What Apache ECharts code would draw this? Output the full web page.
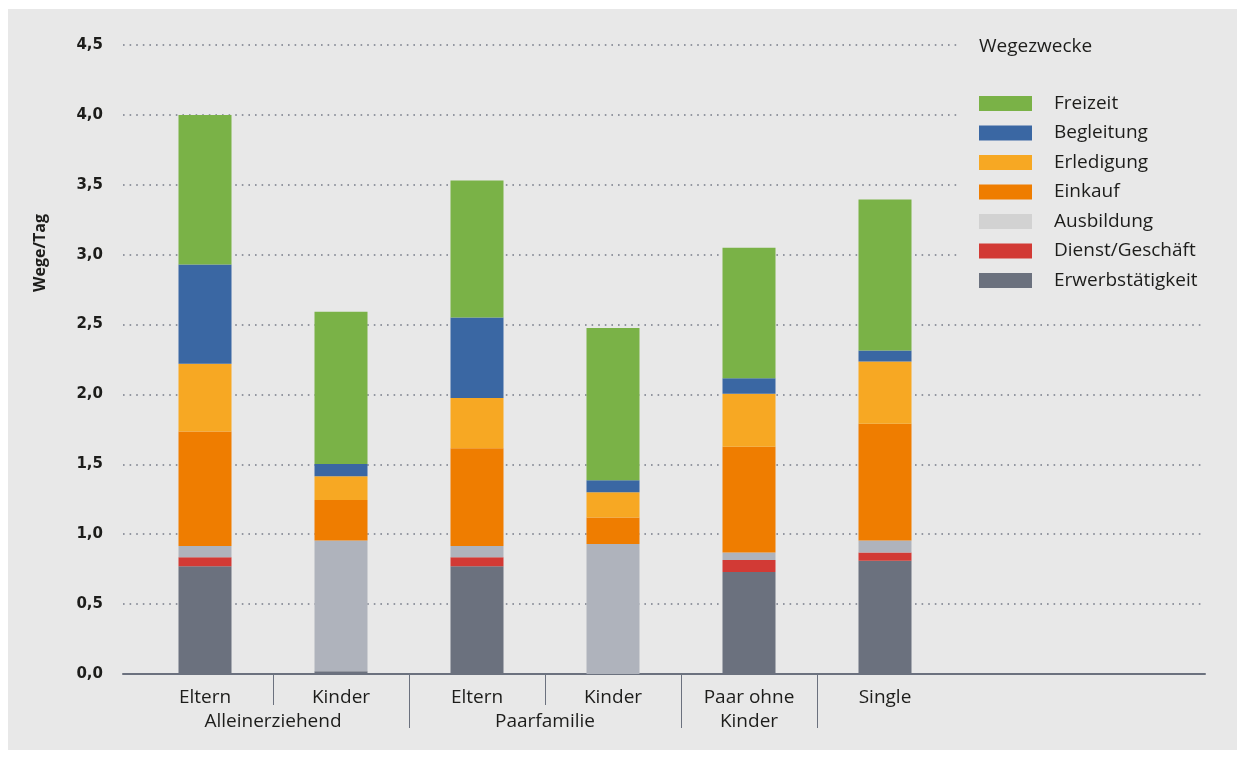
<!DOCTYPE html>
<html>
<head>
<meta charset="utf-8">
<script src="https://cdn.jsdelivr.net/npm/echarts@6/dist/echarts.min.js"></script>
<style>
  html, body { margin: 0; padding: 0; background: #ffffff; }
  #bg { position: absolute; left: 8px; top: 9px; width: 1229px; height: 741px; background: #e8e8e8; }
  #chart { position: absolute; left: 0; top: 0; width: 1245px; height: 758px; }
</style>
</head>
<body>
<div id="bg"></div>
<div id="chart"></div>
<script>
  // columns and the group row below them
  var categories = ['Eltern', 'Kinder', 'Eltern', 'Kinder', 'Paar ohne\nKinder', 'Single'];
  var groupLabels = ['', '', 'Alleinerziehend', '', '', '', 'Paarfamilie', '', '', '', '', '', ''];
  var yTicks = [0, 0.5, 1, 1.5, 2, 2.5, 3, 3.5, 4, 4.5];

  // Wege/Tag per purpose, bottom to top
  var erwerb     = [0.77, 0.02, 0.77, 0.00, 0.73, 0.81];
  var dienst     = [0.065, 0.00, 0.065, 0.00, 0.085, 0.06];
  var ausbildung = [0.08, 0.935, 0.08, 0.93, 0.055, 0.085];
  var einkauf    = [0.82, 0.29, 0.70, 0.19, 0.755, 0.835];
  var erledigung = [0.485, 0.17, 0.36, 0.18, 0.38, 0.445];
  var begleitung = [0.71, 0.087, 0.575, 0.086, 0.11, 0.08];
  var freizeit   = [1.07, 1.09, 0.98, 1.09, 0.935, 1.08];

  var font = 'Open Sans';
  var textColor = '#1d1d1b';
  var axisGrey = '#6b717e';

  var stackDefs = [
    { name: 'Erwerbstätigkeit', data: erwerb, color: '#6b717e' },
    { name: 'Dienst/Geschäft', data: dienst, color: '#d23a35' },
    { name: 'Ausbildung', data: ausbildung, color: '#afb3bc', legendColor: '#d2d2d2' },
    { name: 'Einkauf', data: einkauf, color: '#ef7d00' },
    { name: 'Erledigung', data: erledigung, color: '#f7a823' },
    { name: 'Begleitung', data: begleitung, color: '#3a67a3' },
    { name: 'Freizeit', data: freizeit, color: '#7ab247' }
  ];

  var series = stackDefs.map(function (d) {
    return {
      name: d.name,
      type: 'bar',
      stack: 'wege',
      xAxisIndex: 1,
      yAxisIndex: 1,
      barWidth: 53,
      itemStyle: { color: d.color },
      data: d.data
    };
  });

  var legendData = stackDefs.slice().reverse().map(function (d) {
    return { name: d.name, itemStyle: { color: d.legendColor || d.color } };
  });

  var myChart = echarts.init(document.getElementById('chart'));

  var option = {
    animation: false,
    title: {
      text: 'Wegezwecke',
      left: 974,
      top: 32,
      textStyle: { fontFamily: font, fontSize: 19, fontWeight: 'normal', color: textColor }
    },
    legend: {
      orient: 'vertical',
      left: 957,
      top: 38,
      padding: [56, 12, 10, 22],
      backgroundColor: '#e8e8e8',
      itemWidth: 53,
      itemHeight: 15,
      itemGap: 10.5,
      icon: 'rect',
      selectedMode: false,
      data: legendData,
      textStyle: { fontFamily: font, fontSize: 19, color: textColor, padding: [0, 0, 0, 17] }
    },
    grid: [
      { left: 123, right: 40, top: 45, bottom: 84 },
      { left: 137, right: 292, top: 45, bottom: 84 }
    ],
    xAxis: [
      {
        gridIndex: 0, type: 'value', min: 0, max: 1,
        axisLine: { show: true, lineStyle: { color: axisGrey, width: 2 } },
        axisTick: { show: false }, axisLabel: { show: false }, splitLine: { show: false }
      },
      {
        gridIndex: 1, type: 'category', data: categories, position: 'bottom',
        axisLine: { show: false }, axisTick: { show: false },
        axisLabel: { interval: 0, margin: 12, lineHeight: 24, fontFamily: font, fontSize: 19, color: textColor }
      },
      {
        gridIndex: 1, type: 'category', data: groupLabels, position: 'bottom', boundaryGap: false,
        axisLine: { show: false },
        axisTick: {
          show: true, length: 31, lineStyle: { color: axisGrey, width: 1 },
          interval: function (i) { return i === 2 || i === 6; }
        },
        axisLabel: { show: false }
      },
      {
        gridIndex: 1, type: 'category', data: groupLabels, position: 'bottom', boundaryGap: false,
        axisLine: { show: false },
        axisTick: {
          show: true, length: 54, lineStyle: { color: axisGrey, width: 1 },
          interval: function (i) { return i === 4 || i === 8 || i === 10; }
        },
        axisLabel: {
          interval: 0, margin: 36, lineHeight: 24, fontFamily: font, fontSize: 19, color: textColor
        }
      }
    ],
    yAxis: [
      {
        gridIndex: 0, type: 'value',
        min: yTicks[0], max: yTicks[yTicks.length - 1], interval: 0.5,
        axisLine: { show: false }, axisTick: { show: false },
        axisLabel: {
          margin: 20, fontFamily: 'DejaVu Sans', fontWeight: 'bold', fontSize: 15, color: textColor,
          formatter: function (v) { return v.toFixed(1).replace('.', ','); }
        },
        splitLine: { show: true, lineStyle: { color: '#767b88', width: 1.6, type: [1.6, 5] } }
      },
      {
        gridIndex: 1, type: 'value', show: false,
        min: yTicks[0], max: yTicks[yTicks.length - 1], splitLine: { show: false }
      }
    ],
    graphic: [
      {
        type: 'text',
        x: 40, y: 253,
        rotation: Math.PI / 2,
        style: {
          text: 'Wege/Tag',
          fontFamily: font, fontWeight: 'bold', fontSize: 16, fill: textColor,
          textAlign: 'center', textVerticalAlign: 'middle'
        }
      }
    ],
    series: series
  };

  myChart.setOption(option);
</script>
</body>
</html>
